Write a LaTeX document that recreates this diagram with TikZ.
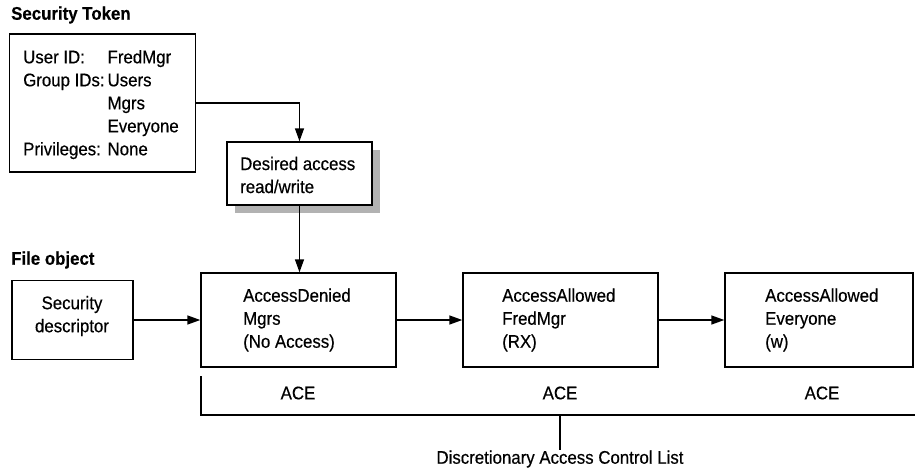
\documentclass[tikz,border=0pt]{standalone}
\usepackage{fontspec}
\setmainfont{Liberation Sans}[FakeStretch=0.92,FakeBold=0.4]
\usetikzlibrary{arrows.meta}
\begin{document}
\begin{tikzpicture}[x=1pt,y=-1pt,
  box/.style={draw=black,line width=1.4pt,fill=white,inner sep=0pt},
  txt/.style={font=\fontsize{18.3}{23}\selectfont,align=left,inner sep=0pt},
  head/.style={font=\fontsize{18.3}{20}\selectfont\bfseries,inner sep=0pt,anchor=west},
  conn/.style={line width=1.4pt,-{Triangle[length=13pt,width=9pt]}},
  plain/.style={line width=1.4pt}]
\useasboundingbox (0,0) rectangle (915,467);

% access token
\node[head] (tokhead) at (11,15) {Security Token};
\node[box,minimum width=186pt,minimum height=138pt] (token) at (102.5,103) {};
\node[txt,anchor=north west] (tokline) at (23,47) {%
  \begin{tabular}{@{}l@{\hspace{3pt}}l@{}}
  User ID: & FredMgr\\
  Group IDs: & Users\\
  & Mgrs\\
  & Everyone\\
  Privileges: & None
  \end{tabular}};

% desired access with drop shadow
\fill[gray!60] (235,150) rectangle (380,213);
\node[box,minimum width=145pt,minimum height=63pt] (desired) at (299.5,173.5) {};
\node[txt,anchor=west] (desiredtxt) at (240,175) {Desired access\\read/write};

% file object
\node[head] (filehead) at (11,260) {File object};
\node[box,minimum width=121pt,minimum height=79pt] (sd) at (72.5,320) {};
\node[txt,align=center] (sdtxt) at (72,316) {Security\\descriptor};

% access control entries
\node[box,minimum width=195pt,minimum height=94pt] (ace1) at (298.5,320) {};
\node[txt,anchor=west] (ace1txt) at (243,320) {AccessDenied\\Mgrs\\(No Access)};
\node[box,minimum width=195pt,minimum height=94pt] (ace2) at (560.5,320) {};
\node[txt,anchor=west] (ace2txt) at (502,320) {AccessAllowed\\FredMgr\\(RX)};
\node[box,minimum width=188pt,minimum height=94pt] (ace3) at (819,320) {};
\node[txt,anchor=west] (ace3txt) at (765,320) {AccessAllowed\\Everyone\\(w)};

\node[txt] (acel1) at (298,393) {ACE};
\node[txt] (acel2) at (560,393) {ACE};
\node[txt] (acel3) at (822,393) {ACE};

% connectors
\coordinate (bend) at (desired.north |- token.east);
\draw[conn] (token.east) -- (bend) -- (desired.north);
\draw[conn] (desired.south) -- (desired.south |- ace1.north);
\draw[conn] (sd.east) -- (ace1.west);
\draw[conn] (ace1.east) -- (ace2.west);
\draw[conn] (ace2.east) -- (ace3.west);

% bracket spanning the list
\coordinate (brtop) at (201,376);
\coordinate (brcorner) at (201,415);
\coordinate (brend) at (915,415);
\coordinate (tickA) at (560,415);
\draw[plain] (brtop) -- (brcorner) -- (brend);
\node[txt] (dacl) at (560,459) {Discretionary Access Control List};
\draw[plain] (tickA) -- (dacl.north);
\end{tikzpicture}
\end{document}
